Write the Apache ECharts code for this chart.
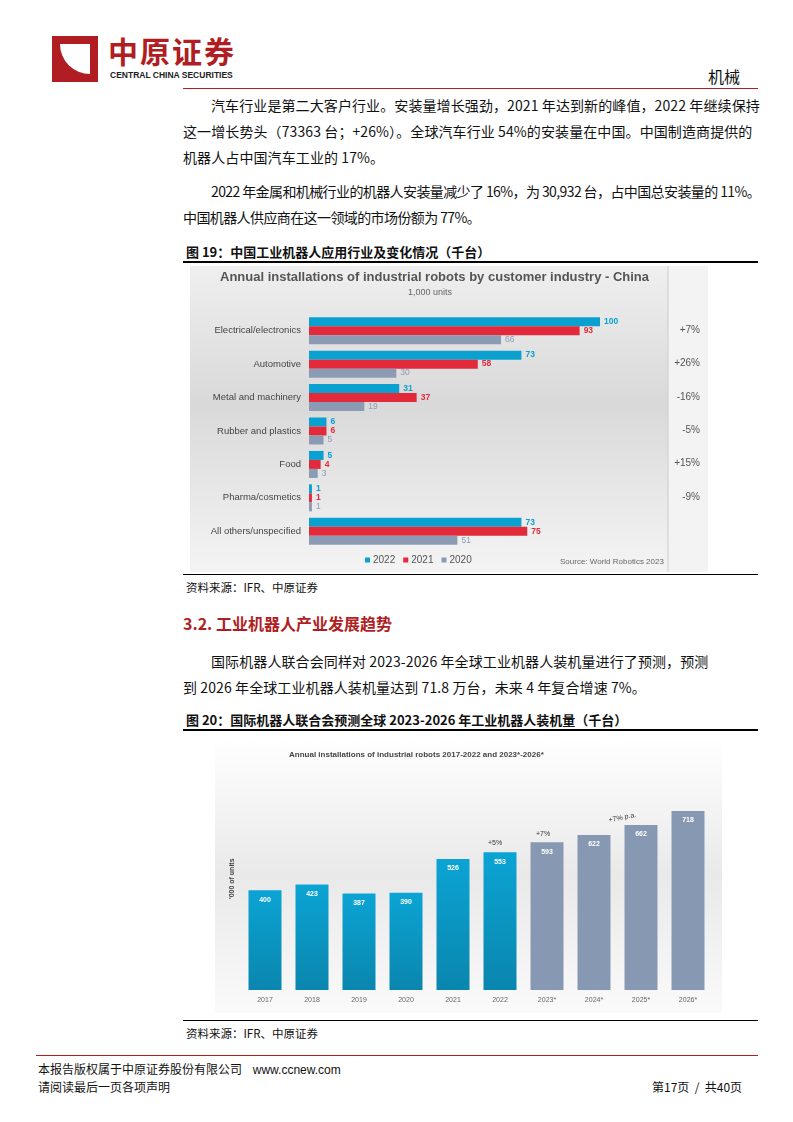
<!DOCTYPE html>
<html><head><meta charset="utf-8">
<script src="https://cdn.jsdelivr.net/npm/echarts@6/dist/echarts.min.js"></script>
<style>
body{margin:0;width:793px;height:1122px;position:relative;background:#fff;font-family:"Noto Sans CJK SC","Noto Sans",sans-serif;color:#111;overflow:hidden}
.a{position:absolute}
p.t{position:absolute;left:183px;width:578px;margin:0;font-size:14px;line-height:26px;text-indent:28px;letter-spacing:0.1px}
p.n{white-space:nowrap;letter-spacing:-0.6px}
.cap{font-size:13px;font-weight:bold}
.src{font-size:11.5px}
</style></head><body>
<div class="a" style="left:52px;top:36px;width:46px;height:46px;background:#b01e23"></div>
<div class="a" style="left:60px;top:44px;width:30px;height:30px;background:#fff;border-radius:0 0 0 30px"></div>
<div class="a" style="left:108px;top:32px;font-size:30px;font-weight:bold;color:#b01e23;letter-spacing:2px;line-height:36px">中原证券</div>
<div class="a" style="left:110px;top:70px;font-size:8.5px;font-weight:bold;color:#222;font-family:'Liberation Sans'">CENTRAL CHINA SECURITIES</div>
<div class="a" style="left:708px;top:64px;font-size:16px">机械</div>
<div class="a" style="left:183px;top:88px;width:575px;height:1px;background:#b01e23"></div>
<p class="t" style="top:92px">汽车行业是第二大客户行业。安装量增长强劲，2021 年达到新的峰值，2022 年继续保持这一增长势头（73363 台；+26%）。全球汽车行业 54%的安装量在中国。中国制造商提供的机器人占中国汽车工业的 17%。</p>
<p class="t n" style="top:178px">2022 年金属和机械行业的机器人安装量减少了 16%，为 30,932 台，占中国总安装量的 11%。<br>中国机器人供应商在这一领域的市场份额为 77%。</p>
<div class="a cap" style="left:186px;top:242px">图 19：中国工业机器人应用行业及变化情况（千台）</div>
<div class="a" style="left:183px;top:261px;width:575px;height:2px;background:#000"></div>
<div id="c1" class="a" style="left:190px;top:266px;width:518px;height:306px"></div>
<div class="a" style="left:183px;top:574px;width:575px;height:1px;background:#000"></div>
<div class="a src" style="left:186px;top:579px">资料来源：IFR、中原证券</div>
<div class="a" style="left:183px;top:611px;font-size:16px;font-weight:bold;color:#b01e23">3.2. 工业机器人产业发展趋势</div>
<p class="t" style="top:648px">国际机器人联合会同样对 2023-2026 年全球工业机器人装机量进行了预测，预测<br>到 2026 年全球工业机器人装机量达到 71.8 万台，未来 4 年复合增速 7%。</p>
<div class="a cap" style="left:186px;top:710px">图 20：国际机器人联合会预测全球 2023-2026 年工业机器人装机量（千台）</div>
<div class="a" style="left:183px;top:729px;width:575px;height:2px;background:#000"></div>
<div id="c2" class="a" style="left:215px;top:737px;width:507px;height:276px"></div>
<div class="a" style="left:183px;top:1020px;width:575px;height:1px;background:#000"></div>
<div class="a src" style="left:186px;top:1025px">资料来源：IFR、中原证券</div>
<div class="a" style="left:36px;top:1055px;width:722px;height:1px;background:#b01e23"></div>
<div class="a" style="left:38px;top:1060px;font-size:12px">本报告版权属于中原证券股份有限公司 &nbsp;&nbsp;&nbsp;<span style="font-family:'Liberation Sans'">www.ccnew.com</span></div>
<div class="a" style="left:38px;top:1078px;font-size:12px">请阅读最后一页各项声明</div>
<div class="a" style="left:652px;top:1078px;font-size:12px">第17页 &nbsp;/ &nbsp;共40页</div>
<script>
const industries=["Electrical/electronics","Automotive","Metal and machinery","Rubber and plastics","Food","Pharma/cosmetics","All others/unspecified"];
const v2022=[100,73,31,6,5,1,73];
const v2021=[93,58,37,6,4,1,75];
const v2020=[66,30,19,5,3,1,51];
const changes=["+7%","+26%","-16%","-5%","+15%","-9%",""];
const years=["2017","2018","2019","2020","2021","2022","2023*","2024*","2025*","2026*"];
const installs=[400,423,387,390,526,553,593,622,662,718];
const forecastFrom=6;

const F="Liberation Sans, Arial, sans-serif";
const c1=echarts.init(document.getElementById('c1'));
function ser(name,data,color){return {name,type:'bar',data,barWidth:9,barGap:'0%',itemStyle:{color},
 label:{show:true,position:'right',distance:4,color:name==='2020'?'#8b9bb4':color,fontSize:8.5,fontWeight:name==='2020'?'normal':'bold',fontFamily:F}};}
c1.setOption({
 graphic:[
  {type:'rect',shape:{x:0,y:0,width:478,height:306},style:{fill:new echarts.graphic.LinearGradient(0,0,0,1,[{offset:0,color:'#efefef'},{offset:0.45,color:'#d9d9d9'},{offset:1,color:'#f4f4f4'}])},z:-10},
  {type:'rect',shape:{x:478,y:0,width:40,height:306},style:{fill:'#f3f3f3'},z:-10},
  {type:'line',shape:{x1:478,y1:0,x2:478,y2:306},style:{stroke:'#ccc',lineWidth:1}},
  {type:'text',x:30,y:5,style:{text:'Annual installations of industrial robots by customer industry - China',fill:'#555',font:'bold 13px '+F}},
  {type:'text',x:218,y:22,style:{text:'1,000 units',fill:'#666',font:'9px '+F}},
  {type:'text',x:370,y:292,style:{text:'Source: World Robotics 2023',fill:'#666',font:'8px '+F}},
 ].concat(changes.map((c,i)=>({type:'text',x:510,y:65+i*33.4-6,style:{text:c,fill:'#555',font:'10px '+F,align:'right'}}))),
 legend:{bottom:2,left:170,itemWidth:5,itemHeight:5,itemGap:8,icon:'rect',textStyle:{fontSize:10,color:'#555',fontFamily:F,padding:[0,0,0,-2]}},
 grid:{left:119,top:48,width:291,height:234},
 xAxis:{type:'value',max:100,show:false},
 yAxis:{type:'category',data:industries,inverse:true,axisLine:{show:false},axisTick:{show:false},axisLabel:{color:'#444',fontSize:9.5,fontFamily:F,margin:8}},
 series:[ser('2022',v2022,'#0aa0cf'),ser('2021',v2021,'#e32a3a'),ser('2020',v2020,'#8b9bb4')]
});

const c2=echarts.init(document.getElementById('c2'));
const blue=new echarts.graphic.LinearGradient(0,0,0,1,[{offset:0,color:'#0ba4d4'},{offset:1,color:'#0a86ae'}]);
c2.setOption({
 graphic:[
  {type:'rect',shape:{x:0,y:0,width:507,height:276},style:{fill:new echarts.graphic.LinearGradient(0,0,0,1,[{offset:0,color:'#fff'},{offset:0.5,color:'#e9e9e9'},{offset:1,color:'#fafafa'}])},z:-10},
  {type:'text',x:74,y:14,style:{text:'Annual installations of industrial robots 2017-2022 and 2023*-2026*',fill:'#444',font:'bold 8px '+F}},
  {type:'text',x:273,y:103,style:{text:'+5%',fill:'#333',font:'7px '+F}},
  {type:'text',x:321,y:94,style:{text:'+7%',fill:'#333',font:'7px '+F}},
  {type:'text',x:393,y:80,rotation:0.2,style:{text:'+7% p.a.',fill:'#333',font:'7px '+F}},
  {type:'text',x:14,y:162,rotation:Math.PI/2,style:{text:"'000 of units",fill:'#444',font:'bold 7px '+F}}
 ],
 grid:{left:26.5,top:53.6,width:470,height:199.4},
 xAxis:{type:'category',data:years,axisLine:{show:false},axisTick:{show:false},axisLabel:{color:'#666',fontSize:7,fontFamily:F,margin:7}},
 yAxis:{type:'value',min:0,max:800,show:false},
 series:[{type:'bar',barWidth:33,data:installs.map((v,i)=>({value:v,itemStyle:{color:i<forecastFrom?blue:'#8799b2'}})),
  label:{show:true,position:'insideTop',distance:6,color:'#fff',fontSize:7,fontWeight:'bold',fontFamily:F}}]
});
</script>
</body></html>
